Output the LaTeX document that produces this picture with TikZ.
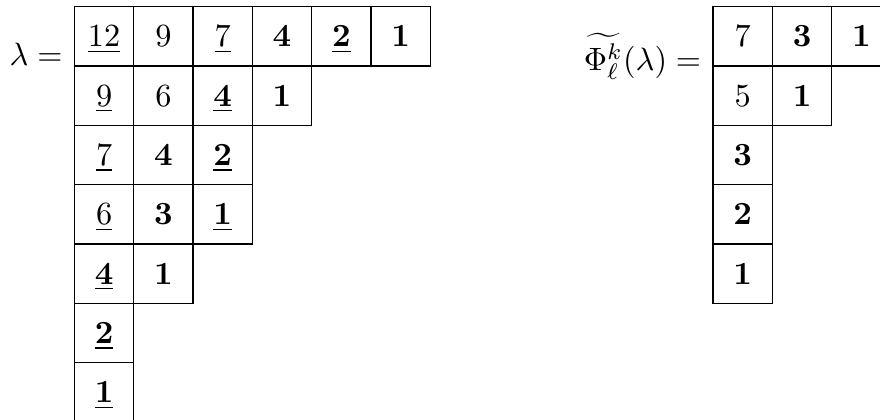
\documentclass[tikz,border=0pt]{standalone}
\usepackage{amsmath,amssymb}
\usepackage{tikz}
\usetikzlibrary{positioning}

\begin{document}
\begin{tikzpicture}[x=0.645cm, y=0.645cm, node distance=0pt,
  box/.style={draw, minimum size=0.645cm, inner sep=0pt, outer sep=0pt, text height=6.5pt, text depth=0pt},
  lbl/.style={anchor=base east, inner sep=0pt}]
\useasboundingbox (-1.256,0.113) rectangle (13.584,-6.965);
\clip (-1.256,0.113) rectangle (13.584,-6.965);

% diagram of lambda
\node[box] (lam11) at (0.5,-0.5) {$\underline{12}$};
\node[box, right=of lam11] (lam12) {$9$};
\node[box, right=of lam12] (lam13) {$\underline{7}$};
\node[box, right=of lam13] (lam14) {$\mathbf{4}$};
\node[box, right=of lam14] (lam15) {$\underline{\mathbf{2}}$};
\node[box, right=of lam15] (lam16) {$\mathbf{1}$};
\node[box, below=of lam11] (lam21) {$\underline{9}$};
\node[box, right=of lam21] (lam22) {$6$};
\node[box, right=of lam22] (lam23) {$\underline{\mathbf{4}}$};
\node[box, right=of lam23] (lam24) {$\mathbf{1}$};
\node[box, below=of lam21] (lam31) {$\underline{7}$};
\node[box, right=of lam31] (lam32) {$\mathbf{4}$};
\node[box, right=of lam32] (lam33) {$\underline{\mathbf{2}}$};
\node[box, below=of lam31] (lam41) {$\underline{6}$};
\node[box, right=of lam41] (lam42) {$\mathbf{3}$};
\node[box, right=of lam42] (lam43) {$\underline{\mathbf{1}}$};
\node[box, below=of lam41] (lam51) {$\underline{\mathbf{4}}$};
\node[box, right=of lam51] (lam52) {$\mathbf{1}$};
\node[box, below=of lam51] (lam61) {$\underline{\mathbf{2}}$};
\node[box, below=of lam61] (lam71) {$\underline{\mathbf{1}}$};
\node[lbl] (lamlbl) at ([xshift=-3.5pt]lam21.north west) {$\lambda =$};

% diagram of its image
\node[box] (phi11) at (11.27,-0.5) {$7$};
\node[box, right=of phi11] (phi12) {$\mathbf{3}$};
\node[box, right=of phi12] (phi13) {$\mathbf{1}$};
\node[box, below=of phi11] (phi21) {$5$};
\node[box, right=of phi21] (phi22) {$\mathbf{1}$};
\node[box, below=of phi21] (phi31) {$\mathbf{3}$};
\node[box, below=of phi31] (phi41) {$\mathbf{2}$};
\node[box, below=of phi41] (phi51) {$\mathbf{1}$};
\node[lbl] (philbl) at ([xshift=-3.5pt, yshift=-1.3pt]phi21.north west) {$\widetilde{\Phi^k_\ell}(\lambda) =$};
\end{tikzpicture}
\end{document}
